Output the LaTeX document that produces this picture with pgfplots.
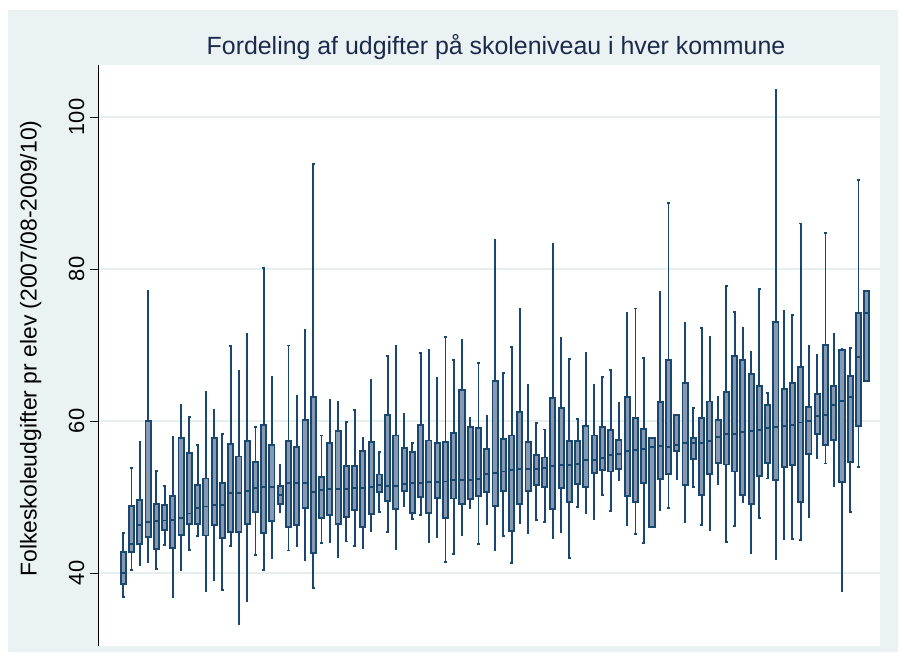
\documentclass[border=0pt]{standalone}
\usepackage{fontspec}
\setmainfont{Liberation Sans}
\usepackage{pgfplots}
\pgfplotsset{compat=1.18}
\usepgfplotslibrary{statistics}
\definecolor{navy}{HTML}{1A476F}
\definecolor{boxfill}{HTML}{8799B0}
\definecolor{bgc}{HTML}{EAF2F3}
\definecolor{gridc}{HTML}{E6EEF0}
\definecolor{titlec}{HTML}{1C2A4A}
\newcommand{\bx}[6]{\addplot[draw=navy, fill=boxfill, line width=1.9bp,
  boxplot prepared={draw position=#1, lower whisker=#2, lower quartile=#3,
  median=#4, upper quartile=#5, upper whisker=#6}] coordinates {};}
\begin{document}
\begin{tikzpicture}
\fill[white] (0,0) rectangle (904bp,662bp);
\fill[bgc] (8bp,10bp) rectangle (898bp,652bp);
\begin{axis}[
  at={(98bp,16bp)}, anchor=south west,
  scale only axis, width=782bp, height=581bp,
  xmin=-2.06, xmax=92.6, ymin=30.39, ymax=106.84,
  axis x line=none, axis y line*=left,
  axis line style={black, line width=0.9bp},
  axis background/.style={fill=white},
  ytick={40,60,80,100}, xtick=\empty,
  tick align=outside, major tick length=8bp,
  every tick/.style={black, line width=0.9bp},
  ymajorgrids, grid style={gridc, line width=1.6bp},
  /pgf/number format/assume math mode=true,
  yticklabel style={rotate=90, anchor=base, font=\fontsize{22}{26}\selectfont},
  yticklabel shift=6bp,
  ylabel={Folkeskoleudgifter pr elev (2007/08-2009/10)},
  every axis y label/.style={at={(axis description cs:-0.0786,0.512)}, rotate=90, anchor=base, font=\fontsize{23}{27}\selectfont},
  title={Fordeling af udgifter på skoleniveau i hver kommune},
  title style={at={(axis description cs:0.509,1)}, anchor=base, yshift=5bp, text=titlec, font=\fontsize{25}{30}\selectfont},
  boxplot/draw direction=y,
  boxplot/box extend=0.62,
  boxplot/whisker extend=0.3,
  clip=false,
]
\bx{1}{36.8}{38.6}{40.05}{42.7}{45.25}
\bx{2}{40.4}{42.8}{43.8}{48.8}{53.8}
\bx{3}{41.06}{43.87}{46.35}{49.6}{57.3}
\bx{4}{41.5}{44.74}{46.72}{59.94}{77.06}
\bx{5}{40.55}{43.18}{46.81}{49.07}{53.4}
\bx{6}{43.73}{45.62}{46.9}{48.98}{51.42}
\bx{7}{36.87}{43.3}{46.95}{50.08}{57.86}
\bx{8}{40.37}{45.02}{47.27}{57.73}{62.15}
\bx{9}{43.04}{46.45}{47.83}{55.75}{60.55}
\bx{10}{44.88}{46.45}{48.56}{51.6}{56.85}
\bx{11}{37.65}{44.93}{48.75}{52.43}{63.76}
\bx{12}{39.08}{46.26}{48.98}{57.77}{61.45}
\bx{13}{37.74}{44.56}{48.98}{51.83}{58.23}
\bx{14}{43.5}{45.43}{50.5}{56.94}{69.83}
\bx{15}{33.32}{45.34}{50.5}{55.33}{66.52}
\bx{16}{36.36}{46.45}{50.77}{57.4}{71.49}
\bx{17}{42.39}{47.97}{51.23}{54.64}{59.24}
\bx{18}{40.41}{45.2}{51.33}{59.52}{80.15}
\bx{19}{41.98}{46.81}{51.33}{56.85}{65.74}
\bx{20}{48.06}{49.02}{50.27}{51.42}{54.23}
\bx{21}{42.95}{45.99}{51.79}{57.31}{69.93}
\bx{22}{43.59}{46.26}{51.79}{56.58}{63.25}
\bx{23}{41.7}{48.56}{51.88}{60.17}{72.0}
\bx{24}{38.07}{42.62}{50.64}{63.2}{93.78}
\bx{25}{43.96}{47.18}{50.87}{52.6}{58.09}
\bx{26}{44.05}{47.6}{51.0}{57.08}{62.79}
\bx{27}{42.16}{46.4}{51.0}{58.65}{62.56}
\bx{28}{44.14}{47.41}{51.0}{54.04}{59.84}
\bx{29}{43.5}{48.24}{51.14}{54.04}{61.45}
\bx{30}{43.27}{45.99}{51.19}{56.02}{57.73}
\bx{31}{45.52}{47.78}{51.33}{57.27}{65.46}
\bx{32}{48.02}{50.7}{51.6}{52.96}{55.9}
\bx{33}{45.39}{49.5}{51.5}{60.8}{68.6}
\bx{34}{43.18}{48.47}{51.46}{58.09}{69.88}
\bx{35}{48.8}{50.82}{51.65}{56.5}{60.97}
\bx{36}{47.15}{47.85}{51.84}{55.92}{57.06}
\bx{37}{47.57}{49.95}{51.8}{59.5}{68.9}
\bx{38}{44.06}{47.88}{52.0}{57.43}{69.3}
\bx{39}{44.7}{49.9}{52.0}{57.1}{65.7}
\bx{40}{41.46}{47.25}{52.04}{57.2}{71.0}
\bx{41}{42.5}{49.8}{52.18}{58.44}{68.0}
\bx{42}{44.97}{49.02}{52.2}{64.03}{70.66}
\bx{43}{48.52}{49.71}{52.25}{59.24}{60.44}
\bx{44}{43.82}{50.08}{52.34}{59.02}{67.62}
\bx{45}{46.42}{50.67}{53.03}{56.33}{60.7}
\bx{46}{42.99}{48.79}{53.17}{65.23}{83.88}
\bx{47}{44.88}{50.77}{53.35}{57.63}{66.34}
\bx{48}{41.34}{45.48}{53.49}{58.09}{69.79}
\bx{49}{46.58}{49.02}{53.63}{61.22}{74.8}
\bx{50}{45.25}{50.82}{53.63}{57.22}{64.68}
\bx{51}{47.0}{51.56}{53.72}{55.47}{59.75}
\bx{52}{46.72}{51.28}{53.81}{55.19}{58.88}
\bx{53}{44.6}{48.47}{54.13}{63.0}{83.28}
\bx{54}{45.39}{51.23}{54.18}{61.7}{70.9}
\bx{55}{42.0}{49.32}{54.2}{57.31}{68.16}
\bx{56}{48.7}{51.69}{54.36}{57.4}{60.21}
\bx{57}{47.83}{51.37}{54.92}{59.34}{68.91}
\bx{58}{47.09}{53.12}{54.92}{58.09}{64.68}
\bx{59}{50.27}{53.49}{55.15}{59.24}{65.78}
\bx{60}{48.15}{53.35}{55.56}{58.78}{66.7}
\bx{61}{52.29}{53.63}{55.65}{57.54}{62.33}
\bx{62}{46.35}{50.08}{56.02}{63.11}{74.25}
\bx{63}{45.11}{49.39}{56.16}{60.35}{74.8}
\bx{64}{43.96}{51.83}{56.3}{58.92}{68.32}
\bx{65}{46.0}{46.05}{56.58}{57.76}{57.8}
\bx{66}{48.26}{52.4}{56.65}{62.48}{76.97}
\bx{67}{48.56}{53.08}{56.62}{68.08}{88.71}
\bx{68}{52.33}{56.06}{56.87}{60.76}{60.8}
\bx{69}{46.7}{51.6}{57.1}{65.0}{72.92}
\bx{70}{51.3}{54.96}{57.12}{57.76}{61.72}
\bx{71}{46.26}{50.31}{57.08}{60.4}{72.23}
\bx{72}{45.71}{53.03}{57.31}{62.56}{70.99}
\bx{73}{51.74}{54.46}{57.86}{60.12}{63.11}
\bx{74}{44.05}{54.27}{58.23}{63.8}{77.8}
\bx{75}{46.17}{53.35}{58.32}{68.55}{74.39}
\bx{76}{49.34}{50.22}{58.5}{67.98}{72.18}
\bx{77}{42.6}{49.05}{58.73}{66.14}{69.14}
\bx{78}{47.23}{52.7}{58.78}{64.6}{77.38}
\bx{79}{52.43}{54.5}{59.06}{62.1}{63.71}
\bx{80}{41.84}{52.25}{59.24}{73.0}{103.5}
\bx{81}{44.51}{53.9}{59.38}{64.17}{74.44}
\bx{82}{44.51}{54.23}{59.52}{65.05}{73.89}
\bx{83}{44.37}{49.3}{59.8}{67.07}{85.99}
\bx{84}{47.32}{55.65}{59.94}{61.78}{69.93}
\bx{85}{55.1}{58.32}{60.67}{63.53}{68.73}
\bx{86}{54.41}{56.8}{60.76}{69.97}{84.71}
\bx{87}{51.42}{57.5}{62.15}{64.59}{71.4}
\bx{88}{37.65}{51.92}{62.61}{69.37}{69.5}
\bx{89}{48.01}{54.55}{63.16}{65.92}{69.65}
\bx{90}{53.9}{59.29}{68.41}{74.21}{91.75}
\bx{91}{65.23}{65.25}{74.25}{77.1}{77.12}
\end{axis}
\end{tikzpicture}
\end{document}
